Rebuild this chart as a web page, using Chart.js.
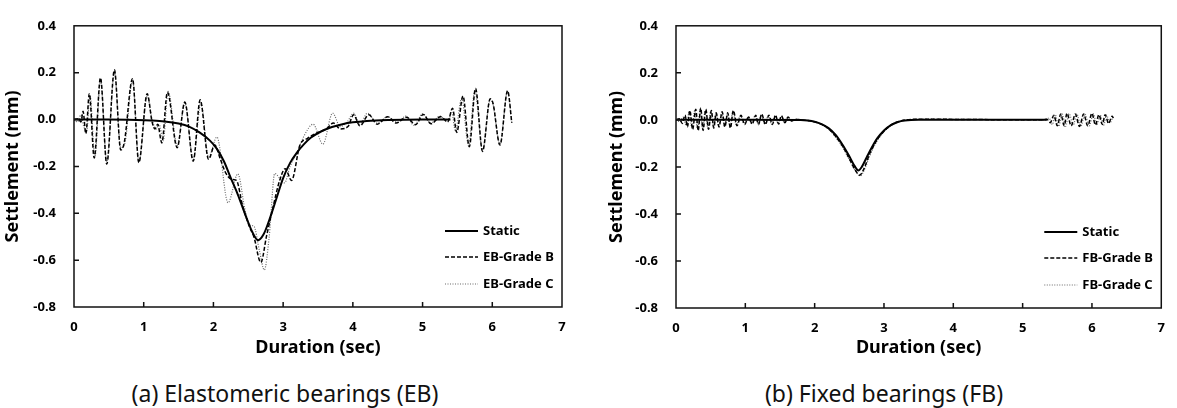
<!DOCTYPE html>
<html>
<head>
<meta charset="utf-8">
<script src="https://cdn.jsdelivr.net/npm/chart.js@4.4.1/dist/chart.umd.min.js"></script>
<style>
  body { margin: 0; background: #fff; width: 1177px; height: 408px; position: relative; overflow: hidden; font-family: "Noto Sans", sans-serif; }
  .panel { position: absolute; top: 0; }
  .caption { position: absolute; top: 378px; font-size: 23px; line-height: 30px; color: #111; transform: translateX(-50%); white-space: nowrap; }
</style>
</head>
<body>
<canvas id="ebChart" class="panel" width="590" height="360" style="left:0"></canvas>
<canvas id="fbChart" class="panel" width="587" height="360" style="left:590px"></canvas>
<div class="caption" style="left:285px">(a) Elastomeric bearings (EB)</div>
<div class="caption" style="left:884px">(b) Fixed bearings (FB)</div>
<script>
// [time (sec), settlement (mm)]
const ebStatic = [[0,0],[0.5,0],[0.9,-0.002],[1.1,-0.004],[1.3,-0.008],[1.5,-0.017],[1.65,-0.03],[1.8,-0.055],[1.95,-0.09],[2.05,-0.125],[2.15,-0.178],[2.25,-0.25],[2.35,-0.32],[2.45,-0.4],[2.55,-0.475],[2.64,-0.515],[2.72,-0.49],[2.8,-0.43],[2.9,-0.34],[3.0,-0.25],[3.1,-0.185],[3.2,-0.14],[3.3,-0.105],[3.4,-0.077],[3.55,-0.05],[3.7,-0.032],[3.85,-0.02],[4.0,-0.012],[4.2,-0.006],[4.5,-0.002],[5.0,0],[5.4,0]];

const ebGradeB = [[0,0],[0.06,0.003],[0.1,-0.01],[0.13,0.035],[0.17,-0.06],[0.22,0.11],[0.29,-0.164],[0.38,0.178],[0.47,-0.19],[0.58,0.212],[0.67,-0.13],[0.72,-0.1],[0.84,0.174],[0.93,-0.184],[1.05,0.11],[1.12,-0.01],[1.16,-0.04],[1.2,-0.02],[1.26,-0.1],[1.34,0.116],[1.48,-0.12],[1.59,0.075],[1.71,-0.178],[1.81,0.084],[1.93,-0.17],[2.02,-0.109],[2.1,-0.17],[2.18,-0.23],[2.26,-0.255],[2.33,-0.26],[2.42,-0.37],[2.52,-0.46],[2.58,-0.5],[2.68,-0.61],[2.76,-0.5],[2.85,-0.38],[2.95,-0.26],[3.03,-0.21],[3.12,-0.26],[3.24,-0.11],[3.35,-0.08],[3.5,-0.055],[3.62,-0.04],[3.72,-0.015],[3.82,-0.04],[3.93,-0.03],[4.01,0.02],[4.1,-0.027],[4.23,0.02],[4.35,-0.02],[4.5,0.012],[4.62,-0.015],[4.77,0.01],[4.9,-0.022],[5.01,0.022],[5.12,-0.018],[5.26,0.012],[5.36,-0.01],[5.43,0.048],[5.49,-0.055],[5.58,0.1],[5.67,-0.116],[5.76,0.132],[5.86,-0.136],[5.97,0.089],[6.01,0.07],[6.11,-0.109],[6.22,0.123],[6.28,-0.014]];

const ebGradeC = [[0,0],[0.05,-0.01],[0.1,0.02],[0.14,-0.03],[0.18,-0.05],[0.23,0.1],[0.3,-0.16],[0.38,0.17],[0.47,-0.18],[0.58,0.2],[0.67,-0.12],[0.73,-0.1],[0.84,0.17],[0.93,-0.18],[1.05,0.1],[1.12,0],[1.18,-0.04],[1.22,-0.02],[1.28,-0.09],[1.35,0.12],[1.48,-0.11],[1.59,0.07],[1.71,-0.17],[1.82,0.07],[1.93,-0.16],[2.05,-0.075],[2.21,-0.355],[2.35,-0.232],[2.45,-0.38],[2.52,-0.45],[2.58,-0.455],[2.66,-0.56],[2.73,-0.642],[2.8,-0.5],[2.88,-0.23],[2.95,-0.25],[3.02,-0.27],[3.1,-0.2],[3.2,-0.14],[3.3,-0.07],[3.43,-0.02],[3.57,-0.105],[3.71,0.027],[3.82,-0.03],[3.92,-0.01],[4.01,0.027],[4.1,-0.02],[4.21,0.027],[4.35,-0.015],[4.5,0.012],[4.64,-0.012],[4.76,0.015],[4.88,-0.025],[5.0,0.025],[5.12,-0.015],[5.25,0.015],[5.36,-0.01],[5.42,0.03],[5.47,-0.05],[5.56,0.09],[5.66,-0.11],[5.75,0.125],[5.86,-0.13],[5.97,0.085],[6.01,0.065],[6.11,-0.105],[6.22,0.12],[6.28,-0.01]];

const fbStatic = [[0,0],[1.0,0],[1.8,-0.001],[1.9,-0.003],[2.0,-0.008],[2.1,-0.018],[2.2,-0.035],[2.3,-0.063],[2.4,-0.105],[2.5,-0.155],[2.58,-0.198],[2.63,-0.215],[2.68,-0.2],[2.75,-0.16],[2.82,-0.12],[2.9,-0.08],[3.0,-0.045],[3.1,-0.022],[3.2,-0.009],[3.3,-0.003],[3.5,0],[5.35,0]];

const fbGradeB = [[0,0],[0.05,0.005],[0.09,-0.015],[0.13,0.02],[0.165,-0.03],[0.2,0.04],[0.24,-0.04],[0.285,0.045],[0.32,-0.045],[0.357,0.05],[0.39,-0.045],[0.43,0.045],[0.47,-0.04],[0.51,0.04],[0.545,-0.035],[0.58,0.03],[0.62,-0.03],[0.666,0.035],[0.705,-0.03],[0.746,0.03],[0.785,-0.035],[0.827,0.04],[0.88,-0.025],[0.937,0.02],[0.99,-0.02],[1.046,0.012],[1.1,-0.018],[1.15,0.02],[1.19,-0.02],[1.236,0.025],[1.29,-0.02],[1.34,0.02],[1.39,-0.02],[1.436,0.02],[1.48,-0.018],[1.52,0.018],[1.57,-0.012],[1.617,0.012],[1.67,-0.005],[1.72,0.003],[1.8,0],[2.0,-0.008],[2.2,-0.038],[2.4,-0.11],[2.5,-0.165],[2.6,-0.22],[2.65,-0.235],[2.7,-0.215],[2.8,-0.14],[2.9,-0.085],[3.0,-0.048],[3.1,-0.022],[3.2,-0.008],[3.4,0.002],[3.6,0.003],[4.0,0.002],[5.3,0],[5.35,0.003],[5.4,-0.012],[5.45,0.02],[5.5,-0.025],[5.55,0.025],[5.6,-0.025],[5.64,0.028],[5.7,-0.025],[5.76,0.025],[5.82,-0.028],[5.88,0.025],[5.94,-0.025],[6.0,0.028],[6.05,-0.022],[6.1,0.022],[6.15,-0.02],[6.19,0.022],[6.24,-0.015],[6.29,0.015],[6.31,0.008]];

const fbGradeC = [[0,0],[0.06,-0.008],[0.1,0.012],[0.15,-0.025],[0.19,0.035],[0.23,-0.035],[0.27,0.04],[0.31,-0.04],[0.35,0.045],[0.385,-0.04],[0.42,0.04],[0.46,-0.035],[0.5,0.035],[0.54,-0.03],[0.575,0.028],[0.615,-0.025],[0.66,0.03],[0.7,-0.025],[0.74,0.025],[0.78,-0.03],[0.82,0.035],[0.87,-0.02],[0.93,0.018],[0.98,-0.015],[1.04,0.01],[1.09,-0.015],[1.14,0.018],[1.19,-0.018],[1.23,0.022],[1.28,-0.018],[1.33,0.018],[1.38,-0.018],[1.43,0.018],[1.47,-0.015],[1.52,0.015],[1.56,-0.01],[1.61,0.01],[1.66,-0.004],[1.72,0.002],[1.8,0],[2.0,-0.009],[2.2,-0.04],[2.4,-0.115],[2.5,-0.17],[2.6,-0.222],[2.66,-0.238],[2.72,-0.21],[2.8,-0.15],[2.9,-0.09],[3.0,-0.05],[3.1,-0.024],[3.2,-0.01],[3.4,0.001],[3.7,0.003],[4.2,0.002],[5.3,0],[5.33,0],[5.38,0.008],[5.43,-0.02],[5.47,0.022],[5.52,-0.028],[5.57,0.026],[5.62,-0.027],[5.67,0.027],[5.73,-0.023],[5.78,0.026],[5.84,-0.027],[5.9,0.024],[5.96,-0.026],[6.02,0.026],[6.07,-0.02],[6.12,0.02],[6.17,-0.022],[6.21,0.02],[6.26,-0.012],[6.3,0.01]];

const ebLabels = ['Static', 'EB-Grade B', 'EB-Grade C'];
const fbLabels = ['Static', 'FB-Grade B', 'FB-Grade C'];

Chart.defaults.font.family = "'Noto Sans', sans-serif";
Chart.defaults.color = '#000';

const lineStyles = [
  { borderColor: '#000', borderWidth: 2, borderDash: [] },
  { borderColor: '#000', borderWidth: 1.5, borderDash: [4, 2] },
  { borderColor: '#6a6a6a', borderWidth: 1.2, borderDash: [1, 1.5] }
];

const toPoints = (pairs) => pairs.map(([x, y]) => ({ x, y }));

// box around the plot, inward ticks and the in-plot legend
const framePlugin = {
  id: 'frame',
  afterDraw(chart, args, opts) {
    const { ctx, chartArea: a, scales: { x, y } } = chart;
    ctx.save();
    ctx.strokeStyle = '#111';
    ctx.lineWidth = 1.5;
    ctx.strokeRect(a.left, a.top, a.right - a.left, a.bottom - a.top);
    ctx.beginPath();
    x.ticks.forEach(t => {
      const px = x.getPixelForValue(t.value);
      if (px <= a.left + 1 || px >= a.right - 1) return;
      ctx.moveTo(px, a.bottom);
      ctx.lineTo(px, a.bottom - 5);
    });
    y.ticks.forEach(t => {
      const py = y.getPixelForValue(t.value);
      if (py <= a.top + 1 || py >= a.bottom - 1) return;
      ctx.moveTo(a.left, py);
      ctx.lineTo(a.left + 5, py);
    });
    ctx.stroke();

    ctx.font = 'bold 13px "Noto Sans"';
    ctx.textBaseline = 'middle';
    ctx.fillStyle = '#000';
    chart.data.datasets.forEach((ds, i) => {
      const yy = a.bottom - opts.rows[i];
      ctx.beginPath();
      ctx.setLineDash(ds.borderDash);
      ctx.lineWidth = ds.borderWidth;
      ctx.strokeStyle = ds.borderColor;
      ctx.moveTo(a.right - 117, yy);
      ctx.lineTo(a.right - 84, yy);
      ctx.stroke();
      ctx.setLineDash([]);
      ctx.fillText(ds.label, a.right - 79, yy);
    });
    ctx.restore();
  }
};

function makeChart(id, labels, series, box) {
  return new Chart(document.getElementById(id), {
    type: 'line',
    data: {
      datasets: series.map((pairs, i) => ({
        label: labels[i],
        data: toPoints(pairs),
        ...lineStyles[i],
        pointRadius: 0,
        fill: false,
        cubicInterpolationMode: 'monotone'
      }))
    },
    options: {
      responsive: false,
      animation: false,
      layout: { padding: { left: 0, top: box.top, right: box.right, bottom: 0 } },
      plugins: {
        legend: { display: false },
        tooltip: { enabled: false },
        frame: { rows: [76, 50, 23] }
      },
      scales: {
        x: {
          type: 'linear',
          min: 0,
          max: 7,
          afterFit: s => { s.height = box.xHeight; },
          grid: { display: false, drawTicks: false },
          border: { display: false },
          ticks: { stepSize: 1, padding: 12, font: { size: 13, weight: 'bold' } },
          title: { display: true, text: 'Duration (sec)', font: { size: 18, weight: 'bold' }, padding: { top: 0, bottom: 1 } }
        },
        y: {
          min: -0.8,
          max: 0.4,
          afterFit: s => { s.width = box.yWidth; },
          grid: { display: false, drawTicks: false },
          border: { display: false },
          ticks: {
            stepSize: 0.2,
            padding: 18,
            font: { size: 13, weight: 'bold' },
            callback: v => v.toFixed(1)
          },
          title: { display: true, text: 'Settlement (mm)', font: { size: 18, weight: 'bold' }, padding: { top: box.titlePad, bottom: 0 } }
        }
      }
    },
    plugins: [framePlugin]
  });
}

makeChart('ebChart', ebLabels, [ebStatic, ebGradeB, ebGradeC],
  { top: 14, right: 28, xHeight: 53, yWidth: 74, titlePad: 2 });
makeChart('fbChart', fbLabels, [fbStatic, fbGradeB, fbGradeC],
  { top: 13, right: 10, xHeight: 52, yWidth: 86, titlePad: 16 });
</script>
</body>
</html>
